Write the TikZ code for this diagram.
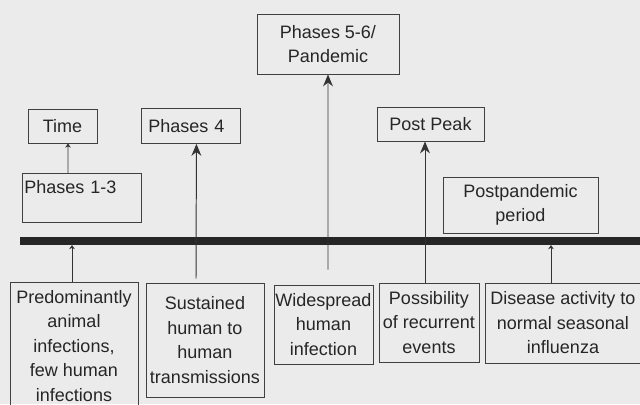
\documentclass[tikz,border=0pt]{standalone}
\usepackage{fontspec}
\setmainfont{Liberation Sans}
\usetikzlibrary{arrows.meta, calc}

\begin{document}
\begin{tikzpicture}[x=0.025cm, y=-0.025cm,
    box/.style={draw=black!75, line width=0.6pt, text=black!85, font=\fontsize{12.8}{17.4}\selectfont, align=center, inner sep=1pt},
    bigarr/.style={draw=black!80, line width=0.7pt, -{Stealth[length=8.5pt, width=7pt]}},
    smallarr/.style={draw=black!80, line width=0.6pt, -{Stealth[length=3pt, width=4pt]}}]
    % page
    \useasboundingbox (0,0) rectangle (640,404);
    \fill[black!8] (0,0) rectangle (640,404);
    \clip (0,0) rectangle (640,404);
    % upper row
    \node[box, minimum width=1.725cm, minimum height=0.85cm] (time) at (62.5,126) {Time};
    \node[box, anchor=north west, align=left, text width=2.125cm, inner xsep=0.175cm, minimum height=0.875cm] (ph4) at (141,108) {Phases 4};
    \node[box, minimum width=3.55cm, minimum height=1.5cm] (pand) at (328,44) {Phases 5-6/\\Pandemic};
    \node[box, minimum width=2.675cm, minimum height=0.85cm] (post) at (430.5,124) {Post Peak};
    \node[box, anchor=north west, align=left, text width=2.875cm, inner xsep=0.05cm, inner ysep=0pt, text height=0.5cm, text depth=0.725cm] (ph13) at (22,173) {Phases 1-3};
    \node[box, minimum width=3.875cm, minimum height=1.4cm] (postp) at (520.5,205) {Postpandemic\\period};
    % time line
    \coordinate (tl-w) at (20,241);
    \coordinate (tl-e) at (645,241);
    \draw[line width=0.2cm, black!85] (tl-w) -- (tl-e);
    % lower row
    \node[box, minimum width=3.2cm, minimum height=3.2cm] (pred) at (74,346) {Predominantly\\animal\\infections,\\few human\\infections};
    \node[box, minimum width=2.95cm, minimum height=2.85cm] (sust) at (205,340) {Sustained\\human to\\human\\transmissions};
    \node[box, minimum width=2.475cm, minimum height=1.975cm] (wide) at (323.5,324.5) {Widespread\\human\\infection};
    \node[box, minimum width=2.5cm, minimum height=1.975cm] (poss) at (429,322.5) {Possibility\\of recurrent\\events};
    \node[box, minimum width=3.9cm, minimum height=2cm] (dis) at (563,323) {Disease activity to\\normal seasonal\\influenza};
    % arrows
    \draw[smallarr] ($(ph13.north west)+(46,0)$) -- ($(time.south)+(5.5,0)$);
    \draw[smallarr, shorten >=0.1cm] ($(pred.north)+(-2,0)$) -- ($(pred.north |- tl-w)+(-2,0)$);
    \draw[smallarr, shorten >=0.1cm] ($(dis.north)+(-12,0)$) -- ($(dis.north |- tl-w)+(-12,0)$);
    \draw[bigarr] ($(sust.north)+(-9,-4)$) -- ($(ph4.south)+(5.5,0)$);
    \draw[bigarr] ($(wide.north)+(4.5,-15)$) -- (pand.south);
    \draw[bigarr] ($(poss.north)+(-4,0)$) -- ($(post.south)+(-5.5,0)$);
\end{tikzpicture}
\end{document}
